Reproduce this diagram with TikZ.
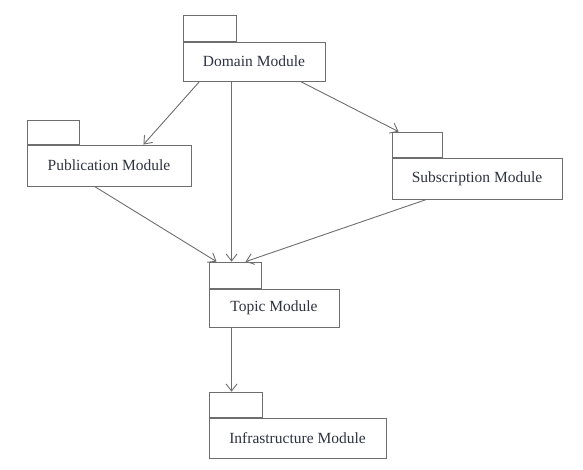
\documentclass[tikz,border=0pt]{standalone}
\usepackage{fontspec}
\setmainfont{Liberation Serif}
\usepackage{xcolor}
\definecolor{LineGray}{HTML}{6E6E6E}
\definecolor{TextInk}{HTML}{2E3140}
\usepackage{tikz}
\usetikzlibrary{arrows.meta, positioning, calc}
\tikzset{
  % Box styles
  modbody/.style={rectangle, draw=LineGray, line width=0.9pt, inner sep=0pt, text=TextInk, font=\fontsize{15.5}{18}\selectfont, align=center},
  modtab/.style={rectangle, draw=LineGray, line width=0.9pt, inner sep=0pt, minimum width=52pt, minimum height=25pt},
  % Arrow styles
  deparrow/.style={-{Straight Barb[length=7pt,width=11pt]}, LineGray, line width=0.9pt}
}

\begin{document}
\begin{tikzpicture}[x=1pt, y=-1pt]
  \useasboundingbox (0,0) rectangle (583,470);
  % Modules
  \node[modbody, minimum width=142pt, minimum height=39pt] (dom) at (254,61.5) {Domain Module};
  \node[modtab, minimum width=53pt, minimum height=26pt, above right=0pt and 0pt of dom.north west] (domtab) {};

  \node[modbody, minimum width=164pt, minimum height=41pt] (pub) at (109,165.5) {Publication Module};
  \node[modtab, minimum height=24pt, above right=0pt and 0pt of pub.north west] (pubtab) {};

  \node[modbody, minimum width=170pt, minimum height=41pt] (sub) at (477,178.5) {Subscription Module};
  \node[modtab, minimum width=50pt, above right=0pt and 0pt of sub.north west] (subtab) {};

  \node[modbody, minimum width=130pt, minimum height=38pt] (topic) at (274,308) {Topic Module};
  \node[modtab, minimum height=26pt, above right=0pt and 0pt of topic.north west] (topictab) {};

  \node[modbody, minimum width=177pt, minimum height=40pt] (infra) at (297.5,438) {Infrastructure Module};
  \node[modtab, minimum width=53pt, above right=0pt and 0pt of infra.north west] (infratab) {};

  % Dependencies
  \draw[deparrow] ($(dom.south west)+(17,0)$) -- ($(pub.north east)+(-48,0)$);
  \draw[deparrow] ($(dom.south east)+(-25,0)$) -- ($(subtab.north west)+(7,0)$);
  \draw[deparrow] ($(dom.south west)+(49,0)$) -- ($(topictab.north west)+(23,0)$);
  \draw[deparrow] ($(pub.south west)+(68,0)$) -- ($(topictab.north west)+(8,0)$);
  \draw[deparrow] ($(sub.south west)+(35,0)$) -- ($(topictab.north west)+(37,0)$);
  \draw[deparrow] ($(topic.south west)+(23,0)$) -- ($(infratab.north west)+(23,0)$);
\end{tikzpicture}
\end{document}
